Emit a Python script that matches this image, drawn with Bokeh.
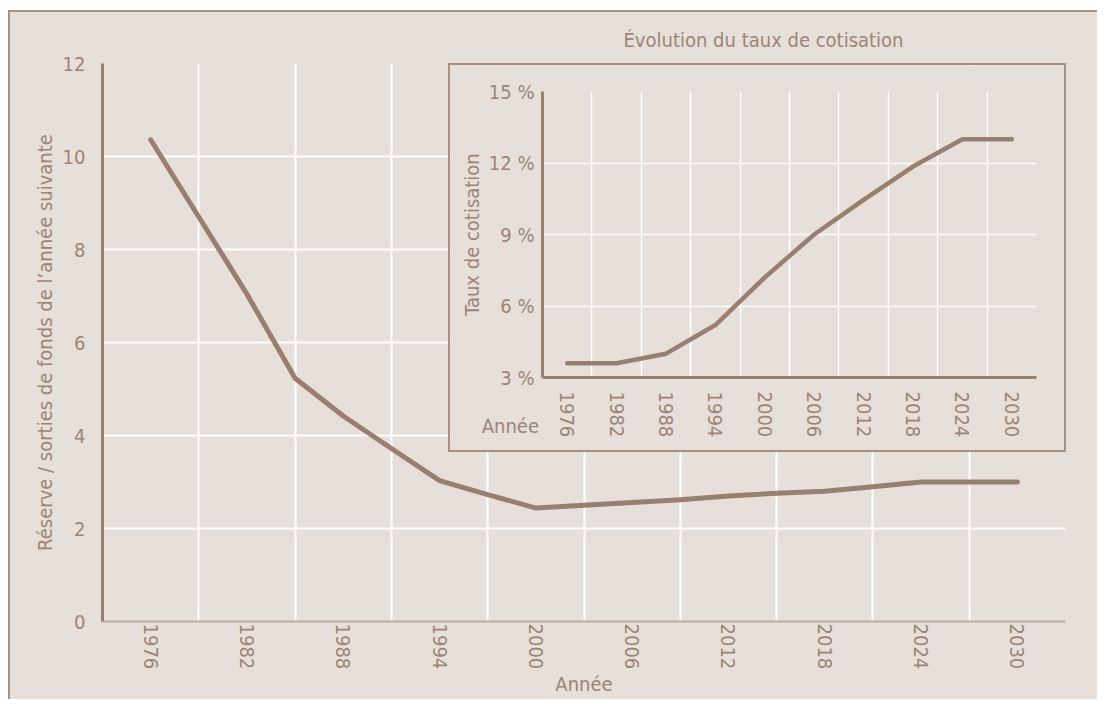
from bokeh.plotting import figure
from bokeh.models import FixedTicker, Div
from bokeh.layouts import column
from bokeh.embed import file_html
from bokeh.resources import INLINE

# ---------------- data ----------------
main_years = [1976, 1979, 1982, 1985, 1988, 1991, 1994, 1997, 2000, 2003,
              2006, 2009, 2012, 2015, 2018, 2021, 2024, 2027, 2030]
reserve_ratio = [10.36, 8.70, 7.04, 5.23, 4.42, 3.72, 3.03, 2.73, 2.44, 2.50,
                 2.56, 2.62, 2.70, 2.76, 2.80, 2.90, 3.00, 3.00, 3.00]

inset_years = [1976, 1982, 1988, 1994, 2000, 2006, 2012, 2018, 2024, 2030]
contribution_rate = [3.6, 3.6, 4.0, 5.2, 7.2, 9.0, 10.45, 11.85, 13.0, 13.0]

tick_years = [1976, 1982, 1988, 1994, 2000, 2006, 2012, 2018, 2024, 2030]
grid_years = [1979, 1985, 1991, 1997, 2003, 2009, 2015, 2021, 2027, 2033]
main_y_ticks = [0, 2, 4, 6, 8, 10, 12]
inset_y_ticks = [3, 6, 9, 12, 15]
inset_y_labels = ["3 %", "6 %", "9 %", "12 %", "15 %"]

main_x_title = "Année"
main_y_title = "Réserve / sorties de fonds de l’année suivante"
inset_title = "Évolution du taux de cotisation"
inset_y_title = "Taux de cotisation"
inset_x_title = "Année"

# ---------------- styles ----------------
BG = "#E6DFDA"
LINE = "#9A7F70"
TEXT = "#9C8577"
FRAME = "#A89284"
FONT = "DejaVu Sans Condensed, Roboto Condensed, sans-serif"
FS = "20px"


def style_axes(p):
    for ax in (p.xaxis, p.yaxis):
        ax.major_label_text_font = FONT
        ax.major_label_text_font_size = FS
        ax.major_label_text_color = TEXT
        ax.axis_label_text_font = FONT
        ax.axis_label_text_font_size = FS
        ax.axis_label_text_font_style = "normal"
        ax.axis_label_text_color = TEXT
        ax.major_tick_line_color = None
        ax.minor_tick_line_color = None
        ax.major_tick_out = 0
        ax.major_tick_in = 0
        ax.minor_tick_out = 0
        ax.minor_tick_in = 0
    p.xaxis.major_label_orientation = "vertical"
    p.xgrid.grid_line_color = "white"
    p.ygrid.grid_line_color = "white"


# ---------------- main chart ----------------
main = figure(width=1087, height=687, x_range=(1973, 2033), y_range=(0, 12),
              output_backend="svg", toolbar_location=None,
              min_border_left=92, min_border_right=32, min_border_top=51,
              min_border_bottom=78, background_fill_color=BG,
              border_fill_color=BG, outline_line_color=None)
style_axes(main)
main.xaxis.ticker = FixedTicker(ticks=tick_years)
main.xgrid.ticker = FixedTicker(ticks=grid_years)
main.yaxis.ticker = FixedTicker(ticks=main_y_ticks)
main.ygrid.ticker = FixedTicker(ticks=main_y_ticks)
main.xgrid.grid_line_width = 2
main.ygrid.grid_line_width = 2
main.xaxis.axis_label = main_x_title
main.yaxis.axis_label = main_y_title
main.xaxis.major_label_standoff = 2
main.xaxis.axis_label_standoff = 0
main.yaxis.major_label_standoff = 17
main.yaxis.axis_label_standoff = 3
main.yaxis.axis_line_color = LINE
main.yaxis.axis_line_width = 3
main.xaxis.axis_line_color = "#BCADA3"
main.xaxis.axis_line_width = 2

main.title.text = inset_title
main.title.align = "left"
main.title.offset = 521
main.title.standoff = 24
main.title.text_font = FONT
main.title.text_font_size = FS
main.title.text_font_style = "normal"
main.title.text_color = TEXT

main.line(main_years, reserve_ratio, line_color=LINE, line_width=5,
          line_cap="round", line_join="round")

# ---------------- inset chart ----------------
inset = figure(width=618, height=389, x_range=(1973, 2033), y_range=(3, 15),
               output_backend="svg", toolbar_location=None,
               min_border_left=90, min_border_right=26, min_border_top=26,
               min_border_bottom=77, background_fill_color=BG,
               border_fill_color=BG, outline_line_color=None,
               styles={"border": "2px solid " + FRAME, "box-sizing": "border-box"},
               margin=(-636, 0, 247, 438))
style_axes(inset)
inset.xaxis.ticker = FixedTicker(ticks=tick_years)
inset.xgrid.ticker = FixedTicker(ticks=grid_years)
inset.yaxis.ticker = FixedTicker(ticks=inset_y_ticks)
inset.ygrid.ticker = FixedTicker(ticks=inset_y_ticks)
inset.yaxis.major_label_overrides = {t: s for t, s in zip(inset_y_ticks, inset_y_labels)}
inset.xgrid.grid_line_width = 1.5
inset.ygrid.grid_line_width = 1.5
inset.yaxis.axis_label = inset_y_title
inset.yaxis.major_label_standoff = 8
inset.yaxis.axis_label_standoff = 2
inset.xaxis.major_label_standoff = 14
for ax in (inset.xaxis, inset.yaxis):
    ax.axis_line_color = LINE
    ax.axis_line_width = 3

inset.line(inset_years, contribution_rate, line_color=LINE, line_width=4.5,
           line_cap="round", line_join="round")

# "Année" of the inset: left of the rotated year labels, right-aligned on the y axis
inset_year_title = Div(text=inset_x_title, width=60, height=24,
                       margin=(-285, 0, 261, 469),
                       styles={"font-family": "DejaVu Sans Condensed, sans-serif",
                               "font-size": FS, "color": TEXT,
                               "text-align": "right", "line-height": "24px"})

layout = column(main, inset, inset_year_title, margin=(10, 0, 0, 8),
                styles={"border-top": "2px solid " + FRAME,
                        "border-left": "2px solid " + FRAME,
                        "background-color": BG})

open("out.html", "w").write(file_html(layout, INLINE))
